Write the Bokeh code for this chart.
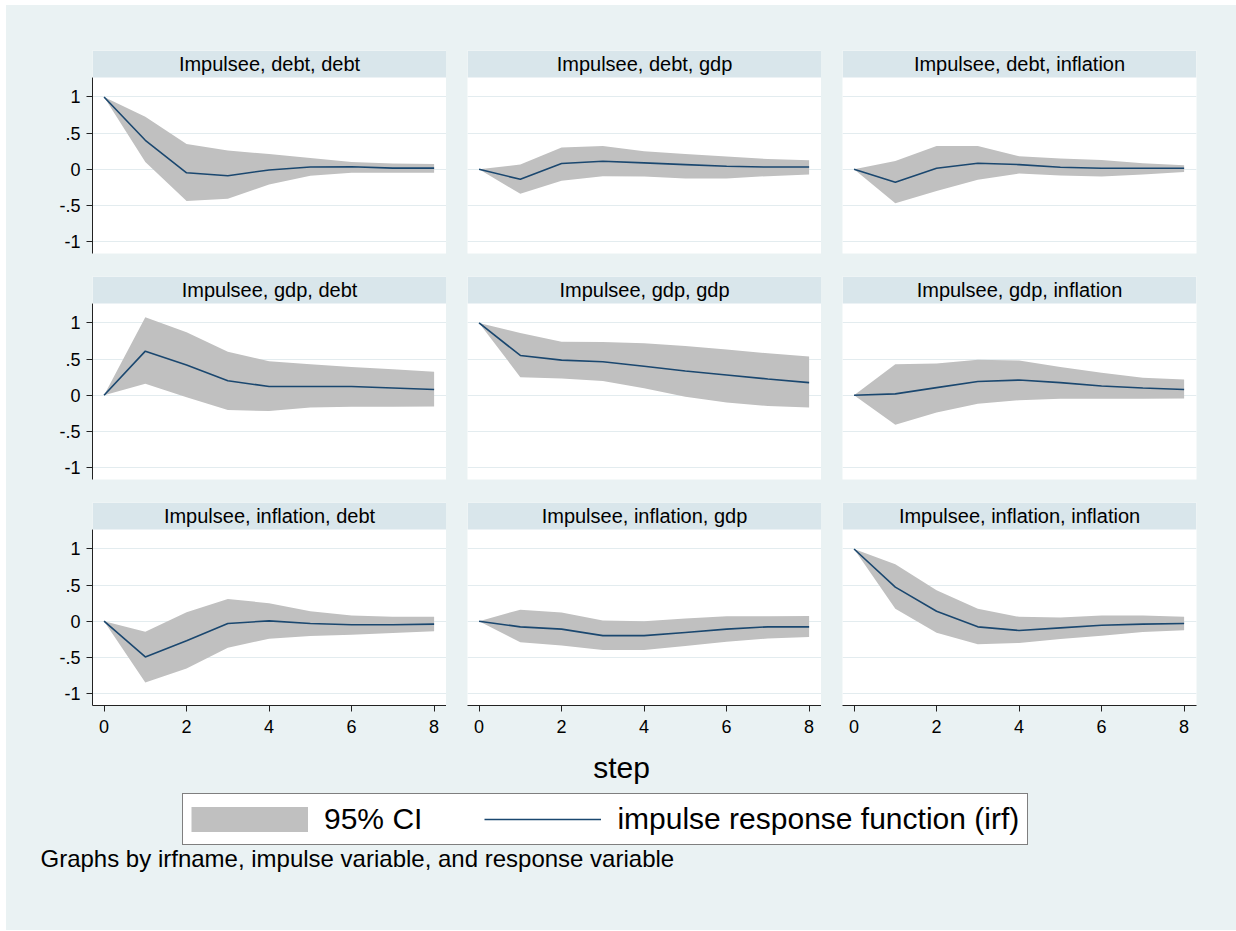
from bokeh.plotting import figure
from bokeh.layouts import row, column
from bokeh.models import (Range1d, FixedTicker, BoxAnnotation, Label, Legend,
                          LegendItem, Grid, CustomJSTickFormatter)
from bokeh.embed import file_html
from bokeh.resources import INLINE

# ---------------- data ----------------
steps = [0, 1, 2, 3, 4, 5, 6, 7, 8]
irfname = "Impulsee"
impulses = ["debt", "gdp", "inflation"]
responses = ["debt", "gdp", "inflation"]
y_ticks = [-1, -0.5, 0, 0.5, 1]
x_ticks = [0, 2, 4, 6, 8]

irf_debt_debt = [1.00, 0.40, -0.05, -0.09, -0.01, 0.03, 0.035, 0.015, 0.015]
lo_debt_debt = [1.00, 0.10, -0.44, -0.41, -0.21, -0.09, -0.05, -0.05, -0.05]
hi_debt_debt = [1.00, 0.725, 0.35, 0.26, 0.21, 0.155, 0.10, 0.08, 0.073]

irf_debt_gdp = [0.0, -0.14, 0.078, 0.11, 0.087, 0.064, 0.04, 0.03, 0.03]
lo_debt_gdp = [0.0, -0.34, -0.16, -0.096, -0.10, -0.13, -0.13, -0.096, -0.073]
hi_debt_gdp = [0.0, 0.064, 0.30, 0.32, 0.25, 0.21, 0.175, 0.14, 0.125]

irf_debt_inflation = [0.0, -0.18, 0.014, 0.083, 0.064, 0.028, 0.014, 0.014, 0.014]
lo_debt_inflation = [0.0, -0.47, -0.30, -0.147, -0.06, -0.087, -0.10, -0.073, -0.04]
hi_debt_inflation = [0.0, 0.115, 0.32, 0.32, 0.18, 0.147, 0.128, 0.083, 0.055]

irf_gdp_debt = [0.0, 0.61, 0.417, 0.20, 0.12, 0.12, 0.12, 0.10, 0.078]
lo_gdp_debt = [0.0, 0.16, -0.03, -0.206, -0.22, -0.17, -0.16, -0.16, -0.156]
hi_gdp_debt = [0.0, 1.08, 0.87, 0.60, 0.47, 0.43, 0.39, 0.36, 0.325]

irf_gdp_gdp = [1.00, 0.55, 0.486, 0.463, 0.40, 0.335, 0.28, 0.225, 0.174]
lo_gdp_gdp = [1.00, 0.25, 0.23, 0.197, 0.096, -0.02, -0.10, -0.15, -0.17]
hi_gdp_gdp = [1.00, 0.86, 0.74, 0.735, 0.72, 0.68, 0.633, 0.58, 0.537]

irf_gdp_inflation = [0.0, 0.018, 0.105, 0.19, 0.21, 0.174, 0.128, 0.10, 0.078]
lo_gdp_inflation = [0.0, -0.41, -0.24, -0.12, -0.07, -0.05, -0.05, -0.05, -0.046]
hi_gdp_inflation = [0.0, 0.43, 0.44, 0.49, 0.48, 0.39, 0.31, 0.243, 0.216]

irf_inflation_debt = [0.0, -0.495, -0.27, -0.032, 0.005, -0.032, -0.05, -0.05, -0.04]
lo_inflation_debt = [0.0, -0.85, -0.656, -0.367, -0.243, -0.206, -0.188, -0.165, -0.138]
hi_inflation_debt = [0.0, -0.147, 0.124, 0.307, 0.25, 0.138, 0.078, 0.06, 0.06]

irf_inflation_gdp = [0.0, -0.078, -0.11, -0.20, -0.20, -0.156, -0.11, -0.078, -0.078]
lo_inflation_gdp = [0.0, -0.29, -0.335, -0.40, -0.40, -0.344, -0.284, -0.24, -0.22]
hi_inflation_gdp = [0.0, 0.16, 0.12, 0.01, 0.0, 0.037, 0.07, 0.07, 0.073]

irf_inflation_inflation = [1.00, 0.472, 0.138, -0.078, -0.128, -0.092, -0.055, -0.04, -0.032]
lo_inflation_inflation = [1.00, 0.174, -0.16, -0.32, -0.30, -0.248, -0.20, -0.15, -0.124]
hi_inflation_inflation = [1.00, 0.79, 0.43, 0.174, 0.06, 0.05, 0.078, 0.078, 0.06]

series = {
    ("debt", "debt"): (irf_debt_debt, lo_debt_debt, hi_debt_debt),
    ("debt", "gdp"): (irf_debt_gdp, lo_debt_gdp, hi_debt_gdp),
    ("debt", "inflation"): (irf_debt_inflation, lo_debt_inflation, hi_debt_inflation),
    ("gdp", "debt"): (irf_gdp_debt, lo_gdp_debt, hi_gdp_debt),
    ("gdp", "gdp"): (irf_gdp_gdp, lo_gdp_gdp, hi_gdp_gdp),
    ("gdp", "inflation"): (irf_gdp_inflation, lo_gdp_inflation, hi_gdp_inflation),
    ("inflation", "debt"): (irf_inflation_debt, lo_inflation_debt, hi_inflation_debt),
    ("inflation", "gdp"): (irf_inflation_gdp, lo_inflation_gdp, hi_inflation_gdp),
    ("inflation", "inflation"): (irf_inflation_inflation, lo_inflation_inflation, hi_inflation_inflation),
}

x_label = "step"
legend_ci = "95% CI"
legend_irf = "impulse response function (irf)"
note = "Graphs by irfname, impulse variable, and response variable"

# ---------------- style ----------------
BG = "#EAF2F3"
STRIP = "#D9E6EB"
GRID = "#E3ECEF"
CI = "#C0C0C0"
NAVY = "#1A476F"
AXIS = "#222222"
FONT = "Liberation Sans"

X0, X1 = -0.28, 8.30
YB, YT = -1.167, 1.27
PX_PER_UNIT = 72.3
STRIP_H = 27
Y_TOP = YT + STRIP_H / PX_PER_UNIT
FRAME_W, FRAME_H = 354, 203
TOTAL_W = 1230

fmt = CustomJSTickFormatter(code="""
    if (tick == 0) return "0";
    return tick.toString().replace("0.", ".");
""")

rows = []
for i, imp in enumerate(impulses):
    figs = []
    for j, resp in enumerate(responses):
        irf, lo, hi = series[(imp, resp)]
        left = 86 if j == 0 else 21
        right = (TOTAL_W - (86 + FRAME_W) - 2 * (21 + FRAME_W)) if j == 2 else 0
        top = 45 if i == 0 else 0
        bottom = 40 if i == 2 else 23
        p = figure(width=left + FRAME_W + right, height=top + FRAME_H + bottom,
                   x_range=Range1d(X0, X1), y_range=Range1d(YB, Y_TOP),
                   toolbar_location=None, output_backend="svg",
                   x_axis_location="below" if i == 2 else None,
                   y_axis_location="left" if j == 0 else None,
                   min_border_left=left, min_border_right=right,
                   min_border_top=top, min_border_bottom=bottom,
                   background_fill_color="white", border_fill_color=BG,
                   outline_line_color=None)
        p.xgrid.visible = False
        p.ygrid.visible = False
        p.add_layout(Grid(dimension=1, ticker=FixedTicker(ticks=y_ticks),
                          grid_line_color=GRID, grid_line_width=1))

        p.varea(x=steps, y1=lo, y2=hi, fill_color=CI, fill_alpha=1.0)
        p.line(x=steps, y=irf, line_color=NAVY, line_width=1.6)

        p.add_layout(BoxAnnotation(bottom=YT, fill_color=STRIP, fill_alpha=1.0,
                                   line_color=None))
        p.add_layout(Label(x=(X0 + X1) / 2, y=YT + STRIP_H / PX_PER_UNIT / 2,
                           text=f"{irfname}, {imp}, {resp}",
                           text_align="center", text_baseline="middle",
                           text_font=FONT, text_font_size="20px",
                           text_color="black"))

        if j == 0:
            ax = p.yaxis[0]
            ax.ticker = FixedTicker(ticks=y_ticks)
            ax.formatter = fmt
            ax.bounds = (YB, YT)
            ax.major_label_standoff = 6
        if i == 2:
            ax = p.xaxis[0]
            ax.ticker = FixedTicker(ticks=x_ticks)
            ax.major_label_standoff = 8
        for ax in list(p.xaxis) + list(p.yaxis):
            ax.axis_line_color = AXIS
            ax.major_tick_line_color = AXIS
            ax.major_tick_out = 6
            ax.major_tick_in = 0
            ax.minor_tick_out = 0
            ax.minor_tick_in = 0
            ax.major_label_text_font = FONT
            ax.major_label_text_font_size = "18px"
            ax.major_label_text_color = "black"
        figs.append(p)
    rows.append(row(*figs, styles={"background-color": BG}))

# ---------------- bottom: axis title, legend, note ----------------
BW, BH = TOTAL_W, 185
pb = figure(width=BW, height=BH, x_range=Range1d(0, BW), y_range=Range1d(0, BH),
            toolbar_location=None, output_backend="svg",
            x_axis_location=None, y_axis_location=None,
            min_border=0, min_border_left=0, min_border_right=0,
            min_border_top=0, min_border_bottom=0,
            background_fill_color=BG, border_fill_color=BG,
            outline_line_color=None)
pb.xgrid.visible = False
pb.ygrid.visible = False

pb.add_layout(Label(x=615, y=163, text=x_label, text_align="center",
                    text_baseline="middle", text_font=FONT,
                    text_font_size="30px", text_color="black"))

# legend proxies (kept outside the visible range; only their styles are shown)
# the CI key is a solid grey block, drawn as a thick butt-capped stroke
r_ci = pb.line(x=[-50, -40], y=[-50, -50], line_color=CI, line_width=25,
               line_cap="butt")
r_ln = pb.line(x=[-50, -40], y=[-50, -50], line_color=NAVY, line_width=1.6)
leg = Legend(items=[LegendItem(label=legend_ci, renderers=[r_ci]),
                    LegendItem(label=legend_irf, renderers=[r_ln])],
             orientation="horizontal", location=(176, 85),
             label_text_font=FONT, label_text_font_size="30px",
             label_text_color="black",
             glyph_width=117, glyph_height=26, label_standoff=16,
             spacing=62, padding=8, margin=0,
             border_line_color="black", border_line_width=1,
             background_fill_color="white", background_fill_alpha=1.0)
pb.add_layout(leg)

pb.add_layout(Label(x=34, y=72, text=note, text_align="left",
                    text_baseline="middle", text_font=FONT,
                    text_font_size="24px", text_color="black"))

layout = column(*rows, pb, margin=(5, 0, 0, 6), styles={"background-color": BG})
open("out.html", "w").write(file_html(layout, INLINE))
